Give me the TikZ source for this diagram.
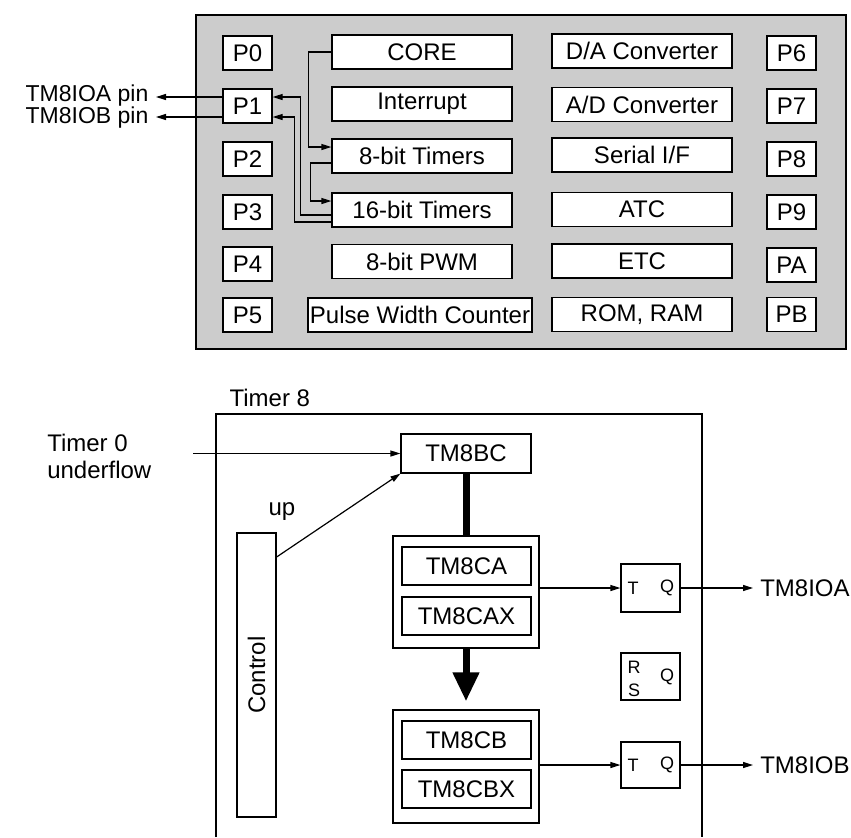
\documentclass[tikz,border=0pt]{standalone}
\usepackage{fontspec}
\setmainfont{Liberation Sans}
\usetikzlibrary{arrows.meta}

\begin{document}
\begin{tikzpicture}[x=0.5pt,y=-0.5pt,line width=0.6pt,
  font=\fontsize{12pt}{13.5pt}\selectfont,
  >={Triangle[length=5pt,width=3pt]},
  pbox/.style={draw,fill=white,minimum width=24.5pt,minimum height=17pt,inner sep=1pt},
  unit/.style={draw,fill=white,minimum width=90pt,minimum height=17pt,inner sep=1pt},
  reg/.style={draw,fill=white,minimum width=64.5pt,minimum height=19pt,inner sep=1pt},
  grp/.style={draw,minimum width=73pt,minimum height=#1},
  ff/.style={draw,minimum width=29.5pt,minimum height=#1},
  pin/.style={anchor=east,inner sep=0pt,font=\fontsize{11.5pt}{12pt}\selectfont},
  lbl/.style={font=\fontsize{9pt}{10pt}\selectfont,inner sep=0pt}]
\useasboundingbox (0,0) rectangle (851,837);
% chip overview
\draw[fill=black!20] (196,15) rectangle (846,349);
\foreach \n/\y in {0/53,1/106,2/159,3/212,4/264,5/315}
  \node[pbox] (p\n) at (247.5,\y) {P\n};
\foreach \n/\y in {6/53,7/106,8/159,9/212,A/265,B/314.5}
  \node[pbox] (p\n) at (791.5,\y) {P\n};
\foreach \nm/\y/\lab in {core/52/CORE,intr/104/Interrupt,tim8/156/8-bit Timers,%
   tim16/210/16-bit Timers,pwm/261.5/8-bit PWM}
  \node[unit] (\nm) at (422,\y) {\lab};
\node[unit,minimum width=112pt,inner sep=0.5pt] (pwc) at (420,315) {Pulse Width Counter};
\foreach \nm/\y/\lab in {da/51/{D/A Converter},ad/104.5/{A/D Converter},%
   sif/155/{Serial I/F},atc/209.5/ATC,etc/261/ETC,mem/314.5/{ROM, RAM}}
  \node[unit] (\nm) at (642,\y) {\lab};
\draw[->] (core.west) -- ++(-23,0) |- ([yshift=4.5pt]tim8.west);
\draw[->] ([yshift=-3.5pt]tim8.west) -- ++(-21,0) |- ([yshift=4.5pt]tim16.west);
\draw[->] ([yshift=-2.5pt]tim16.west) -- ++(-31,0) |- ([yshift=4.5pt]p1.east);
\draw[->] ([yshift=-6pt]tim16.west) -- ++(-37,0) |- ([yshift=-5.5pt]p1.east);
\node[pin] (pina) at (149,96) {TM8IOA pin};
\node[pin] (pinb) at (149,117.5) {TM8IOB pin};
\draw[->] ([yshift=4.5pt]p1.west) -- ([xshift=3.5pt]pina.east |- 0,97);
\draw[->] ([yshift=-5.5pt]p1.west) -- ([xshift=3.5pt]pinb.east |- 0,117);
% timer 8 block
\draw (216,837) |- (702,414) -- (702,837);
\node[anchor=west,inner sep=2pt] (t8) at (225,398) {Timer 8};
\node[anchor=west,align=left] (t0) at (40,456) {Timer 0\\underflow};
\coordinate (t0in) at (193,453.5);
\node[draw,minimum width=65pt,minimum height=19.5pt] (bc) at (466,453.5) {TM8BC};
\draw[->] (t0in) -- (bc.west);
\node[draw,rotate=90,minimum width=142pt,minimum height=19.5pt] (ctrl) at (256.5,675) {Control};
\node (up) at (282,512) {up};
\draw[->] ([yshift=59pt]ctrl.south) -- (bc.south west);
\node[grp=56pt] (ga) at (466,592) {};
\node[reg] (ca) at (466.5,566) {TM8CA};
\node[reg] (cax) at (466.5,616) {TM8CAX};
\node[grp=56.5pt] (gb) at (466,766.5) {};
\node[reg] (cb) at (466.5,740) {TM8CB};
\node[reg] (cbx) at (466.5,789) {TM8CBX};
\draw[line width=3.5pt] (bc.south) -- (ga.north);
\draw[line width=3.5pt,-{Triangle[length=14.5pt,width=12.5pt]},shorten >=4pt] (ga.south) -- (gb.north);
% flip-flops
\node[ff=24pt] (ffa) at (650.5,588) {};
\node[ff=23.5pt] (ffr) at (650.5,676.5) {};
\node[ff=23pt] (ffb) at (650.5,765) {};
\foreach \f in {ffa,ffb} {
   \node[lbl] (\f-T) at ([xshift=-8.75pt]\f.center) {T};
   \node[lbl] (\f-Q) at ([xshift=8.25pt]\f.center) {Q};
}
\node[lbl] (ffr-R) at ([xshift=-8.25pt,yshift=4.75pt]ffr.center) {R};
\node[lbl] (ffr-S) at ([xshift=-8.25pt,yshift=-6.75pt]ffr.center) {S};
\node[lbl] (ffr-Q) at ([xshift=8.25pt]ffr.center) {Q};
\draw[->] (ga.east |- ffa.west) -- (ffa.west);
\draw[->] (gb.east |- ffb.west) -- (ffb.west);
\node[anchor=west] (ioa) at (753,588) {TM8IOA};
\node[anchor=west] (iob) at (753,765) {TM8IOB};
\draw[->] (ffa.east) -- (ioa.west);
\draw[->] (ffb.east) -- (iob.west);
\end{tikzpicture}
\end{document}
